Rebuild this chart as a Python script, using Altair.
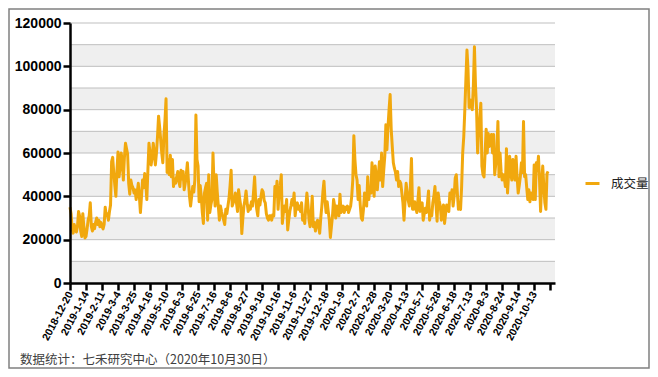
import json
import altair as alt
import pandas as pd

# Daily trading volume (index 0 = 2018-12-20, last = 2020-10-30)
seg1 = [35000, 32000, 25000, 23000, 27000, 25000, 23500, 26000, 33000, 31000,
        24000, 21500, 32000, 26000, 20800, 21500, 25000, 29000, 31000, 37000,
        26000, 24000, 27000, 25000, 28000, 30000, 27000, 29000, 26000, 28000,
        26000, 25000, 27000, 35000, 31000, 32000, 29000, 33000, 36000, 56000,
        58000, 51000, 45000, 40000, 52000, 60500, 49000, 54000, 60000, 55000,
        47500, 58000, 64500, 62000, 59500, 46000, 41000, 47500, 45000, 44000,
        41500, 43000, 38500, 42000, 46000, 40000, 32500, 40000, 47500, 44000,
        50500, 46000, 38500, 52000, 64500, 60000, 54500, 58000, 64500, 60000,
        54500, 60000, 67500, 77000, 72000, 66000, 60000, 55500, 68000, 75000,
        85000]
seg2 = [51000, 57000, 50000, 59000, 49000, 57000, 44500, 48000, 46000, 49000,
        51500, 47000, 44500, 52000, 48000, 51500, 43000, 46000, 50000, 55500,
        47000, 40000, 35500, 40000, 44500, 42000, 47500, 77500, 57000, 54000,
        37500, 45000, 40000, 32500, 27500, 41500, 44000, 46000, 29000, 50000,
        32500, 36000, 38500, 60000, 45000, 35500, 50000, 42000, 35500, 29000,
        35500, 33000, 31000, 29000, 27000, 34000, 32000, 35500, 39000, 45000,
        52000, 35500, 37000, 38500, 41500, 37000, 33000, 43000, 39000, 35500,
        22800, 30000, 35500, 38500, 42500, 37000, 33000, 35500, 34000, 37500,
        35500, 42000, 49000, 38500, 34000, 31000, 38500, 36000, 40000, 43000]
seg3 = [42000, 38000, 37000, 32000, 30000, 29000, 31000, 31000, 29000, 31500,
        31000, 44500, 40000, 47000, 34000, 41500, 45000, 50000, 27500, 32500,
        35500, 33000, 38500, 24500, 29000, 33000, 35500, 38500, 36000, 41500,
        31000, 35500, 37000, 34000, 35500, 33000, 37000, 29000, 31000, 27500,
        35500, 41500, 36000, 29000, 26000, 32000, 40000, 26000, 28000, 24000,
        27500, 29000, 26000, 23000, 30000, 35500, 42000, 47000, 38000, 32500,
        37500, 33000, 29000, 21000, 26000, 31000, 38500, 35500, 30000, 35500,
        33000, 31000, 41000, 32500, 34000, 35500, 32500, 35000, 34000, 35500,
        32500, 34000, 35500, 40000, 47500, 68000, 57000, 50000, 47500, 38500,
        45000, 36000, 30000, 29000]
seg4 = [34000, 41500, 38000, 35500, 49000, 38500, 44000, 41500, 55500, 47000,
        40000, 54000, 49000, 43000, 50000, 56000, 47500, 60000, 44500, 52000,
        58500, 73000, 61500, 72000, 80000, 87000, 71000, 63000, 55500, 53000,
        51000, 47500, 51500, 44500, 47000, 46000, 41500, 37000, 29000, 38000,
        46000, 41500, 38000, 35500, 45000, 57500, 34000, 34000, 37500, 35000,
        32500, 38000, 44000, 33000, 35000, 37000, 29000, 32000, 34500, 32500,
        37000, 42500, 29000, 33000, 31000, 37000, 40000, 44500, 36000, 28500,
        41500, 38000, 35500, 29000, 33000, 36000, 27500, 32000, 36000, 35000,
        33000, 41500, 39000, 43000, 35500, 40000, 48500]
seg5 = [50000, 41500, 34000, 35000, 34000, 44500, 60000, 67500, 80000, 94000,
        107500, 98500, 81000, 84500, 82000, 80000, 91000, 109000, 91000, 80000,
        60000, 71000, 76000, 83000, 54000, 50000, 49000, 60000, 71000, 60000,
        69000, 63000, 65000, 68500, 60000, 68500, 50000, 55000, 60000, 74500,
        49000, 60000, 51500, 47500, 50000, 48500, 44500, 62000, 41500, 50000,
        58500, 51000, 47500, 57000, 52000, 47500, 58500, 49000, 41500, 45000,
        49000, 55500, 51000, 74500, 49000, 50000, 44000, 38500, 43000, 37500,
        41500, 40000, 38500, 54500, 38500, 55500, 52000, 58500, 47500, 33000,
        46000, 54000, 45000, 37000, 34000, 50500, 51500]

volume = seg1 + seg2 + seg3 + seg4 + seg5

tick_labels = ["2018-12-20", "2019-1-14", "2019-2-11", "2019-3-4", "2019-3-25",
               "2019-4-16", "2019-5-10", "2019-6-3", "2019-6-25", "2019-7-16",
               "2019-8-6", "2019-8-27", "2019-9-18", "2019-10-16", "2019-11-6",
               "2019-11-27", "2019-12-18", "2020-1-9", "2020-2-7", "2020-2-28",
               "2020-3-20", "2020-4-13", "2020-5-7", "2020-5-28", "2020-6-18",
               "2020-7-13", "2020-8-3", "2020-8-24", "2020-9-14", "2020-10-13"]
tick_step = 15
tick_positions = [i * tick_step for i in range(len(tick_labels) + 1)]

series_name = "成交量"
footer = "数据统计：七禾研究中心（2020年10月30日）"

y_labels = [0, 20000, 40000, 60000, 80000, 100000, 120000]
band_lows = [0, 20000, 40000, 60000, 80000, 100000]
band_highs = [10000, 30000, 50000, 70000, 90000, 110000]
grid_values = [10000, 20000, 30000, 40000, 50000, 60000, 70000, 80000,
               90000, 100000, 110000, 120000]

W, H = 485, 260
LINE_COLOR = "#F1A80E"
FONT = "Liberation Sans"
CJK = "Noto Sans CJK SC"

df = pd.DataFrame({"idx": list(range(len(volume))), "vol": volume,
                   "series": [series_name] * len(volume)})

xscale = alt.Scale(domain=[0, 454.5], nice=False, zero=False)
yscale = alt.Scale(domain=[0, 120000], nice=False)

y_axis = alt.Axis(values=y_labels, format="d", labelFont=FONT,
                  labelFontSize=14, labelFontWeight="bold",
                  labelColor="#000", tickSize=7, tickWidth=2.5,
                  tickColor="#000", domainColor="#000", domainWidth=2.5,
                  grid=False, labelPadding=2, title=None, zindex=2)

bands = alt.Chart(pd.DataFrame({"lo": band_lows, "hi": band_highs})).mark_rect(
    color="#EFEFEF").encode(
    x=alt.value(0), x2=alt.value(W),
    y=alt.Y("lo:Q", scale=yscale, axis=y_axis, title=None), y2="hi:Q")

grid = alt.Chart(pd.DataFrame({"g": grid_values})).mark_rule(
    color="#BFBFBF", strokeWidth=1).encode(
    y=alt.Y("g:Q", scale=yscale, axis=y_axis, title=None),
    x=alt.value(0), x2=alt.value(W))

label_expr = json.dumps(tick_labels, ensure_ascii=False) + "[datum.value/15] || ''"

line = alt.Chart(df).mark_line(strokeWidth=3, strokeJoin="round").encode(
    x=alt.X("idx:Q", scale=xscale, title=None,
            axis=alt.Axis(values=tick_positions, labelExpr=label_expr,
                          labelAngle=-62, labelFont=FONT, labelFontSize=10.5,
                          labelFontWeight="bold", labelColor="#000",
                          tickSize=7, tickWidth=2.5, tickColor="#000",
                          domainColor="#000", domainWidth=2.5, grid=False,
                          labelPadding=2, labelOverlap=False, labelBound=False,
                          labelFlush=False, title=None, zindex=2)),
    y=alt.Y("vol:Q", scale=yscale, title=None, axis=y_axis),
    color=alt.Color("series:N", scale=alt.Scale(range=[LINE_COLOR]),
                    legend=alt.Legend(title=None, orient="none", legendX=514,
                                      legendY=152, symbolType="stroke",
                                      symbolStrokeWidth=3, symbolSize=196,
                                      labelFont=CJK, labelFontSize=12.5,
                                      labelColor="#222", labelOffset=10,
                                      padding=0)))

foot = alt.Chart(pd.DataFrame({"t": [footer]})).mark_text(
    align="left", baseline="middle", fontSize=12.5, font=CJK,
    color="#404040").encode(x=alt.value(-50), y=alt.value(337), text="t:N")

border = alt.Chart(pd.DataFrame({"a": [0]})).mark_rect(
    fillOpacity=0, stroke="#808080", strokeWidth=1.5).encode(
    x=alt.value(-61), x2=alt.value(579), y=alt.value(-14), y2=alt.value(345))

chart = alt.layer(bands, grid, line, foot, border).properties(
    width=W, height=H,
    autosize=alt.AutoSizeParams(type="none"),
    padding={"left": 62, "top": 15, "right": 95, "bottom": 86},
).configure_view(strokeWidth=0)

chart.save("out.html", embed_options={"renderer": "svg", "actions": False})
